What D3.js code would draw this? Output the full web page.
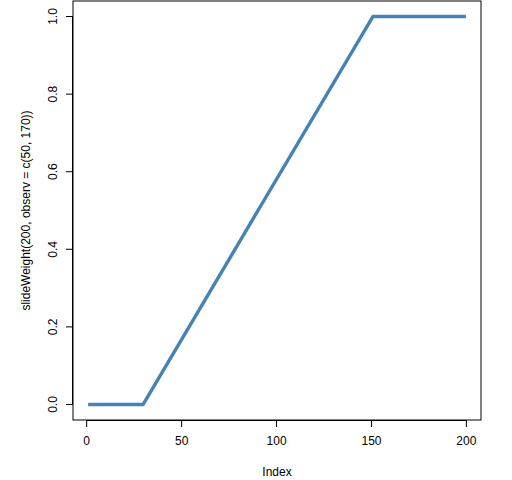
<!DOCTYPE html>
<html><head><meta charset="utf-8">
<script src="https://cdn.jsdelivr.net/npm/d3@7"></script>
<style>body{margin:0;background:#fff}svg{display:block}text{font-family:"Liberation Sans",Arial,sans-serif;font-size:12px;fill:#000}</style>
</head><body>
<script>
// Breakpoints of the plotted series (index, weight)
const breakIndex = [1, 30, 151, 200];
const breakWeight = [0, 0, 1, 1];
const xTicks = [0, 50, 100, 150, 200];
const yTicks = [0.0, 0.2, 0.4, 0.6, 0.8, 1.0];
const xLabel = "Index";
const yLabel = "slideWeight(200, observ = c(50, 170))";

const W = 512, H = 480;
const box = {l: 73, r: 481, t: 1, b: 420};
const svg = d3.select("body").append("svg").attr("width", W).attr("height", H);

const x = d3.scaleLinear().domain([1 - 0.04*199, 200 + 0.04*199]).range([box.l, box.r]);
const y = d3.scaleLinear().domain([-0.04, 1.04]).range([box.b, box.t]);

const pts = breakIndex.map((d, i) => [d, breakWeight[i]]);
svg.append("path")
  .attr("d", d3.line().x(d => x(d[0])).y(d => y(d[1]))(pts))
  .attr("fill", "none").attr("stroke", "#4682B4").attr("stroke-width", 3.4)
  .attr("stroke-linejoin", "round");

svg.append("rect").attr("x", box.l).attr("y", box.t)
  .attr("width", box.r - box.l).attr("height", box.b - box.t)
  .attr("fill", "none").attr("stroke", "#000").attr("stroke-width", 1);

// x axis
const xa = svg.append("g").attr("transform", `translate(0,${box.b})`)
  .call(d3.axisBottom(x).tickValues(xTicks).tickSize(7).tickPadding(9).tickFormat(d3.format("d")));
xa.select(".domain").attr("d", `M${x(0)},0.5H${x(200)}`);
xa.selectAll("text").style("font-size", "12px").style("font-family", '"Liberation Sans",Arial,sans-serif');

// y axis
const ya = svg.append("g").attr("transform", `translate(${box.l},0)`)
  .call(d3.axisLeft(y).tickValues(yTicks).tickSize(7).tickFormat(d3.format(".1f")));
ya.select(".domain").attr("d", `M-0.5,${y(0)}V${y(1)}`);
ya.selectAll("text")
  .attr("transform", d => `translate(-20,${y(d)}) rotate(-90)`)
  .attr("x", 0).attr("y", 0).attr("dy", "0.35em")
  .style("text-anchor", "middle")
  .style("font-size", "12px").style("font-family", '"Liberation Sans",Arial,sans-serif');
ya.selectAll(".tick").attr("transform", null);
ya.selectAll(".tick line").attr("transform", d => `translate(0,${y(d)})`);

svg.append("text").attr("x", (box.l + box.r)/2).attr("y", 476)
  .attr("text-anchor", "middle").text(xLabel);
svg.append("text").attr("transform", `translate(30,${(box.t + box.b)/2}) rotate(-90)`)
  .attr("text-anchor", "middle").text(yLabel);
</script>
</body></html>
